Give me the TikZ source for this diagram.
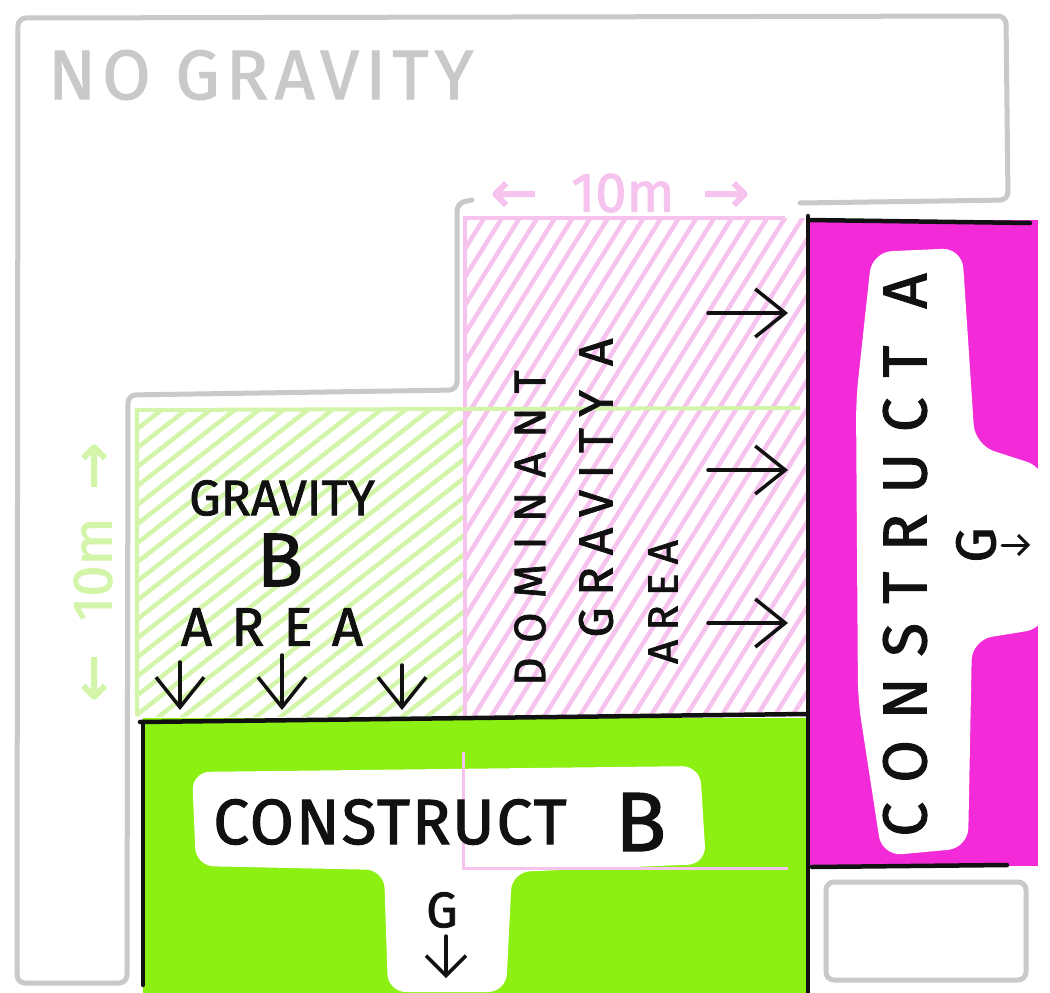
\documentclass[tikz,border=0pt]{standalone}
\usepackage{fontspec}
\setmainfont{Fira Sans}
\newfontfamily\marker{Fira Sans}[FakeBold=1.6]
\newfontfamily\arrowfont{DejaVu Sans}[FakeBold=2.5]
\usetikzlibrary{arrows.meta,positioning,patterns.meta}
\definecolor{nograv}{HTML}{C9C9C9}
\definecolor{gravA}{HTML}{F6C3EE}
\definecolor{gravB}{HTML}{D3F5A9}
\definecolor{constA}{HTML}{F22AD8}
\definecolor{constB}{HTML}{8CF012}
\definecolor{ink}{HTML}{111111}

\begin{document}
\begin{tikzpicture}[x=1pt, y=-1pt,
  wall/.style={nograv, line width=5pt, rounded corners=8pt, line cap=round, line join=round},
  rim/.style={ink, line width=4.5pt, line cap=round},
  hatchA/.style={pattern={Lines[angle=58,distance=15pt,line width=4.5pt]}, pattern color=gravA},
  hatchB/.style={pattern={Lines[angle=38,distance=15pt,line width=4.5pt]}, pattern color=gravB},
  scrawl/.style={inner sep=0pt, text=ink},
  pull/.style={-{Straight Barb[length=30pt,width=48pt]}, ink, line width=3.5pt, line cap=round}
]
  \fill[white] (0,0) rectangle (1050,993);
  \useasboundingbox (0,0) rectangle (1050,993);

  % ── No gravity zone ──
  \draw[wall] (800,203) -- (1008,200) -- (1006,16) -- (18,18) -- (17,983)
    -- (127,983) -- (128,395) -- (457,390) -- (457,203) -- (472,200);
  \draw[wall] (826,882) rectangle (1026,980);
  \node[scrawl, text=nograv, anchor=west, font=\fontsize{70}{70}\marker\addfontfeature{LetterSpace=9}] (nogravity) at (48,75) {NO GRAVITY};

  % ── Gravity B area ──
  \fill[hatchB] (137,410) rectangle (465,716);
  \node[scrawl, text=gravB, rotate=90, font=\fontsize{56}{56}\marker] (spanB) at (93,572)
    {{\arrowfont ←}\hspace{0.6em}10m\hspace{0.5em}{\arrowfont →}};

  % ── Dominant gravity A area ──
  \fill[hatchA] (465,218) rectangle (806,716);
  \draw[gravA, line width=4pt] (465,716) -- (465,218) -- (785,218);
  \draw[gravB, line width=4pt] (137,716) -- (137,410) -- (800,408);
  \node[scrawl, text=gravA, font=\fontsize{56}{56}\marker] (spanA) at (620,193)
    {{\arrowfont ←}\hspace{0.6em}10m\hspace{0.5em}{\arrowfont →}};

  % ── Construct B ──
  \fill[constB] (143,718) rectangle (808,993);
  \fill[white, rounded corners=18pt] (192,772) -- (700,766) -- (706,864) -- (512,872)
    -- (506,992) -- (388,992) -- (384,870) -- (196,866) -- cycle;
  \draw[gravA, line width=3pt] (463,752) -- (463,868) -- (788,868);
  \draw[rim] (140,722) -- (806,714);
  \draw[rim] (143,722) -- (143,985);

  % ── Construct A ──
  \fill[constA] (808,220) rectangle (1038,866);
  \fill[white, rounded corners=20pt] (872,252) -- (962,248) -- (975,445) -- (1046,468)
    -- (1046,628) -- (972,640) -- (968,848) -- (882,856) -- (858,700) -- (856,400) -- cycle;
  \draw[rim] (808,216) -- (808,993);
  \draw[rim] (808,220) -- (1030,223);
  \draw[rim] (812,867) -- (1007,865);

  % labels
  \node[scrawl, font=\fontsize{50}{50}\marker] (gravBword) at (282,498) {GRAVITY};
  \node[scrawl, font=\fontsize{76}{76}\marker] (gravBletter) at (280,560) {B};
  \node[scrawl, font=\fontsize{54}{54}\marker\addfontfeature{LetterSpace=36}] (gravBarea) at (272,627) {AREA};

  \node[scrawl, rotate=90, font=\fontsize{44}{44}\marker\addfontfeature{LetterSpace=33}] (dominant) at (530,528) {DOMINANT};
  \node[scrawl, rotate=90, font=\fontsize{48}{48}\marker\addfontfeature{LetterSpace=24}] (gravAword) at (596,488) {GRAVITY A};
  \node[scrawl, rotate=90, font=\fontsize{42}{42}\marker\addfontfeature{LetterSpace=22}] (gravAarea) at (663,602) {AREA};

  \node[scrawl, font=\fontsize{64}{64}\marker\addfontfeature{LetterSpace=3}] (constBname) at (390,822) {CONSTRUCT};
  \node[scrawl, font=\fontsize{84}{84}\marker, right=48pt of constBname] (constBletter) {B};
  \node[scrawl, font=\fontsize{50}{50}\marker] (gB) at (442,910) {G};

  \node[scrawl, rotate=90, font=\fontsize{62}{62}\marker\addfontfeature{LetterSpace=33}] (constAname) at (905,555) {CONSTRUCT A};
  \node[scrawl, rotate=90, font=\fontsize{56}{56}\marker] (gA) at (976,545) {G};

  % pulls
  \foreach \y in {313,470,623}
    \draw[pull] (708,\y) -- (788,\y);
  \foreach \x/\t in {180/662,282/655,402/665}
    \draw[pull] (\x,\t) -- (\x,710);
  \draw[pull, -{Straight Barb[length=20pt,width=40pt]}] (gB.south) ++(4,8) -- ++(0,42);
  \draw[pull, line width=3pt, -{Straight Barb[length=10pt,width=20pt]}] (gA.south) ++(6,0) -- ++(28,0);
\end{tikzpicture}
\end{document}
